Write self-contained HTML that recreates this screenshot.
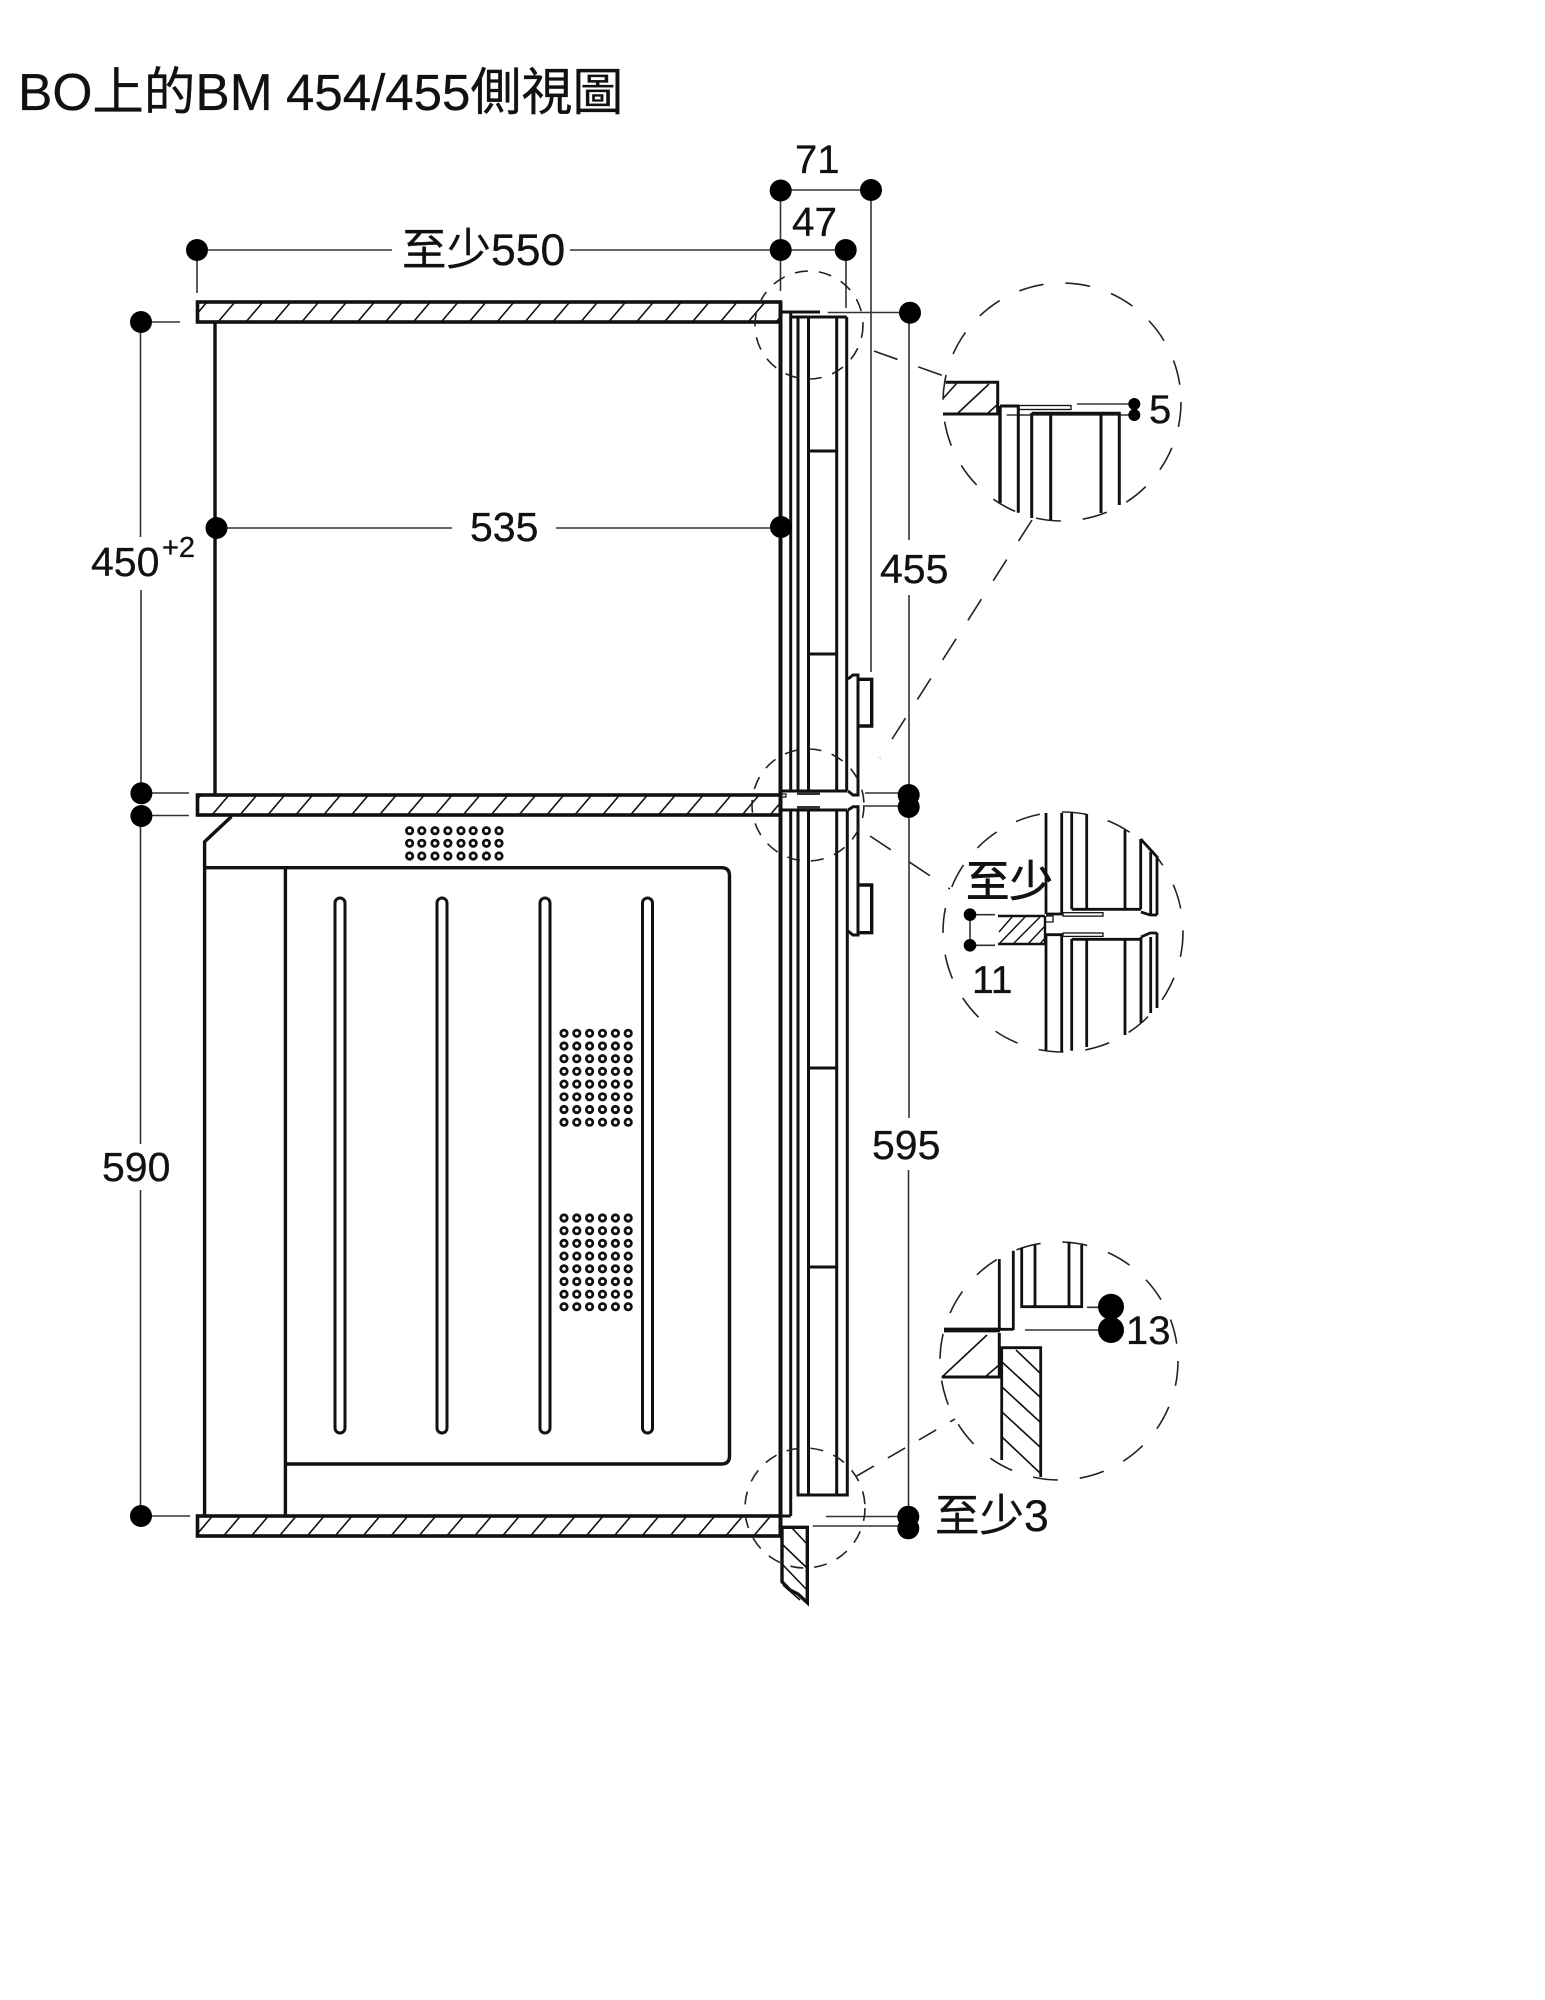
<!DOCTYPE html>
<html><head><meta charset="utf-8"><style>html,body{margin:0;padding:0;background:#fff}svg{display:block}text{font-family:"Liberation Sans","Noto Sans CJK TC",sans-serif;fill:#111;stroke:#111;stroke-width:.3}</style></head><body>
<svg xmlns="http://www.w3.org/2000/svg" width="1545" height="2000" viewBox="0 0 1545 2000">
<defs>
<clipPath id="sc"><rect x="197" y="0" width="584" height="2000"/></clipPath>
<path id="h" d="M190 20l17-20M218 20l17-20M245.9 20l17-20M273.8 20l17-20M301.7 20l17-20M329.6 20l17-20M357.5 20l17-20M385.4 20l17-20M413.3 20l17-20M441.2 20l17-20M469.1 20l17-20M497 20l17-20M524.9 20l17-20M552.8 20l17-20M580.7 20l17-20M608.6 20l17-20M636.5 20l17-20M664.4 20l17-20M692.3 20l17-20M720.2 20l17-20M748.1 20l17-20M776 20l17-20" fill="none" stroke="#111" stroke-width="1.6"/>
<rect id="bar" x="-5" y="898" width="10" height="535" rx="5" fill="none" stroke="#111" stroke-width="3"/>
</defs>
<text x="18" y="110" font-size="51.5">BO上的BM</text>
<text x="286" y="110" font-size="51">454/455側視圖</text>

<!-- shelves -->
<g fill="none" stroke="#111" stroke-width="3.6">
<rect x="197.5" y="302" width="583" height="20"/>
<rect x="197.5" y="795" width="583" height="20"/>
<rect x="197.5" y="1516" width="583" height="20"/>
</g>
<g clip-path="url(#sc)">
<use href="#h" x="0" y="302"/><use href="#h" x="-6" y="795"/><use href="#h" x="5.5" y="1516"/>
</g>

<!-- cavity and appliance -->
<g fill="none" stroke="#111" stroke-width="3.4">
<path d="M215 322V795"/>
<path d="M231.5 816.5L204.6 841.7V1516"/>
<path d="M204.6 867.7H721.5Q729.5 867.7 729.5 875.7V1456Q729.5 1464 721.5 1464H285.4M285.4 867.7V1516"/>
</g>
<use href="#bar" x="340"/><use href="#bar" x="442"/><use href="#bar" x="545"/><use href="#bar" x="647.5"/>
<!-- vents -->
<g fill="none" stroke="#111" stroke-width="2.8">
<g id="r1"><circle cx="409.6" cy="830.7" r="3.2"/><circle cx="421.8" cy="830.7" r="3.2"/><circle cx="435" cy="830.7" r="3.2"/><circle cx="447.9" cy="830.7" r="3.2"/><circle cx="461" cy="830.7" r="3.2"/><circle cx="473.2" cy="830.7" r="3.2"/><circle cx="486.4" cy="830.7" r="3.2"/><circle cx="499" cy="830.7" r="3.2"/></g>
<use href="#r1" y="12.6"/><use href="#r1" y="25.3"/>
<g id="r2"><circle cx="564" cy="1033.3" r="3.2"/><circle cx="576.8" cy="1033.3" r="3.2"/><circle cx="589.6" cy="1033.3" r="3.2"/><circle cx="602.5" cy="1033.3" r="3.2"/><circle cx="615.4" cy="1033.3" r="3.2"/><circle cx="628.2" cy="1033.3" r="3.2"/></g>
<use href="#r2" y="12.7"/><use href="#r2" y="25.4"/><use href="#r2" y="38.1"/><use href="#r2" y="50.8"/><use href="#r2" y="63.5"/><use href="#r2" y="76.2"/><use href="#r2" y="88.9"/>
<use href="#r2" y="184.7"/><use href="#r2" y="197.4"/><use href="#r2" y="210.1"/><use href="#r2" y="222.8"/><use href="#r2" y="235.5"/><use href="#r2" y="248.2"/><use href="#r2" y="260.9"/><use href="#r2" y="273.4"/>
</g>

<!-- door column -->
<g fill="none" stroke="#111" stroke-width="3">
<path d="M780.5 302V1536" stroke-width="4"/>
<path d="M780 312H820"/>
<path d="M790.7 313V791M790.7 809V1516M780 1516H790.7"/>
<path d="M798 317V791M846.7 317V791M790 317H846.7" />
<path d="M808.5 317V791M836.7 317V791M808.5 451H836.7M808.5 654H836.7"/>
<path d="M798 810V1495H847.3V810M782 810H847M782 791H847"/>
<path d="M808.5 810V1495M836.7 810V1495M808.5 1068H836.7M808.5 1267H836.7"/>
<path d="M797 793.5H820M797 807.5H820" stroke-width="3" stroke="#333"/>
<path d="M781 794h5v3h-5" stroke-width="1.2"/>
<!-- knobs -->
<path d="M848 679L853 675H858V795H853L848 791"/>
<path d="M858 679.3H871.7V726H858" stroke-width="3.4"/>
<path d="M848 810L853 806.7H858V935H853L848 931"/>
<path d="M858 885H871.7V932.7H858" stroke-width="3.4"/>
</g>
<!-- bottom stub -->
<g fill="none" stroke="#111">
<path d="M782 1527.3H807.3V1602.7L798 1594L790 1590L782 1581.7Z" stroke-width="3.4"/>
<path d="M792 1528L807 1544M783 1545L807 1568M783 1565L807 1590M783 1585L800 1600" stroke-width="1.6"/>
</g>

<!-- dimensions -->
<g fill="none" stroke="#333" stroke-width="1.6">
<path d="M197 250H392M570 250H781M197 250V293"/>
<path d="M780.5 190H871M780.5 250H846M780.5 190V291M846 250V308"/>
<path d="M871 190V672"/>
<path d="M827.7 312.5H910M909 312V540M909 595V794M909 806V1118M908.5 1170V1516"/>
<path d="M141 322H180M140.5 322V537M141 590V793M141 793H189M141 815.5H189M140.5 816V1144M140.5 1190V1520M141 1516H190"/>
<path d="M216 528H452M556 528H781"/>
<path d="M865 793H900M865 806H900M826 1516.5H900M812.7 1526H900"/>
<path d="M1077 404H1130M1006.7 415H1130"/>
<path d="M970 914.7V945.3M970 914.7H995M970 945.3H995"/>
<path d="M1087 1307.3H1112M1025 1330H1112"/>
</g>
<g fill="#000">
<circle cx="197" cy="250" r="11"/><circle cx="780.7" cy="250" r="11"/><circle cx="780.7" cy="190.5" r="11"/><circle cx="871" cy="190" r="11"/><circle cx="845.7" cy="250" r="11"/><circle cx="910" cy="312.7" r="11"/>
<circle cx="141" cy="322" r="11"/><circle cx="141.4" cy="793.3" r="11"/><circle cx="141.4" cy="816" r="11"/><circle cx="141" cy="1516" r="11"/>
<circle cx="216.5" cy="528" r="11"/><circle cx="781" cy="527" r="11"/>
<circle cx="908.7" cy="795" r="11"/><circle cx="908.7" cy="807" r="11"/><circle cx="908.3" cy="1516.7" r="11"/><circle cx="908.3" cy="1528.3" r="11"/>
<circle cx="1134.3" cy="404" r="6"/><circle cx="1134.3" cy="415" r="6"/>
<circle cx="970" cy="914.7" r="6.3"/><circle cx="970" cy="945.3" r="6.3"/>
<circle cx="1111" cy="1306.7" r="13"/><circle cx="1111" cy="1330" r="13"/>
</g>

<!-- dashed circles -->
<g fill="none" stroke="#222" stroke-width="1.6">
<g stroke-dasharray="13 11">
<circle cx="809" cy="325" r="54"/><circle cx="808" cy="805" r="56"/><circle cx="805" cy="1508" r="60"/>
</g>
<g stroke-dasharray="25 22">
<circle cx="1062" cy="402" r="119"/><circle cx="1063" cy="932" r="120"/><circle cx="1059" cy="1361" r="119"/>
<path d="M874 351L945.7 376.7"/>
<path d="M1032 520L880 758"/>
<path d="M870 836L950 889"/>
</g>
<path d="M856.7 1476L955 1419" stroke-dasharray="20 16"/>
</g>

<!-- detail A -->
<g fill="none" stroke="#111" stroke-width="3">
<path d="M945.7 382.3H997.7V414H943"/>
<path d="M943.5 398L957 383M958 413L989 384M988 413L997 405" stroke-width="1.6"/>
<path d="M1000 406V503" stroke-width="3.4"/>
<path d="M1000 406H1019M1018.3 406V512.7M1031.7 413V518M1031.7 413.3H1119.3V505M1050.7 413V520M1101 413V513"/>
<rect x="1019" y="405.5" width="52" height="4" stroke-width="1.3"/>
</g>
<!-- detail B -->
<g fill="none" stroke="#111" stroke-width="2.8">
<path d="M1046 813V914M1061.7 813V914M1071.7 813V909.3M1086.7 814V909M1125 830V909M1140.7 839V909.3M1150.7 851.7V915M1157 858V915M1140.7 839L1158 858"/>
<path d="M1071.7 909.3H1141M1141 912L1150 915H1157M1046 914H1063"/>
<rect x="1063" y="912.7" width="40" height="3.4" stroke-width="1.3"/>
<rect x="1063" y="933" width="40" height="3.4" stroke-width="1.3"/>
<path d="M1046 934V1051M1061.7 934V1052M1071.7 939V1050.7M1086.7 939V1047M1125 939V1035M1141 937V1023M1150.7 937V1013M1157 932.7V1008M1046 934.7H1063M1071.7 939.3H1141M1141 937L1150 933H1157"/>
<path d="M1045 916V944H998M998 916H1045" stroke-width="2.4"/>
<path d="M1046 916h7v6h-7" stroke-width="1.3"/>
<path d="M999 932L1012 917M999 944L1025 917M1013 944L1040 917M1028 944L1045 926M1040 944L1045 938" stroke-width="1.4"/>
</g>
<!-- detail C -->
<g fill="none" stroke="#111" stroke-width="2.8">
<path d="M999.3 1259V1330M1013.3 1250.7V1330M1000 1329.3H1013.3"/>
<path d="M944 1330H1000" stroke-width="4.8"/>
<path d="M1021.7 1248V1306.7H1081.7V1245M1035 1245V1306.7M1069 1241.7V1306.7"/>
<path d="M999.3 1333V1377H941.7" stroke-width="3"/>
<path d="M942 1377L987 1335M985 1377L999 1365" stroke-width="1.6"/>
<path d="M1001.7 1460V1347.7H1040.7V1477"/>
<path d="M1016 1350L1040 1373M1002 1362L1040 1397M1002 1387L1040 1422M1002 1412L1040 1447M1002 1437L1040 1473" stroke-width="1.6"/>
</g>

<!-- labels -->
<text x="402" y="265" font-size="44.5">至少550</text>
<text x="795" y="173" font-size="40">71</text>
<text x="792" y="236" font-size="40.5">47</text>
<text x="470" y="541" font-size="41">535</text>
<text x="91" y="576" font-size="41">450</text>
<text x="162" y="557" font-size="29">+2</text>
<text x="880" y="583" font-size="41">455</text>
<text x="872" y="1159" font-size="41">595</text>
<text x="102" y="1181" font-size="41">590</text>
<text x="1149" y="423" font-size="40">5</text>
<text x="966" y="897" font-size="43.5" style="stroke-width:.8">至少</text>
<text x="972" y="993" font-size="39">11</text>
<text x="1126" y="1344" font-size="40">13</text>
<text x="935" y="1531" font-size="44.5">至少3</text>
</svg>
</body></html>
